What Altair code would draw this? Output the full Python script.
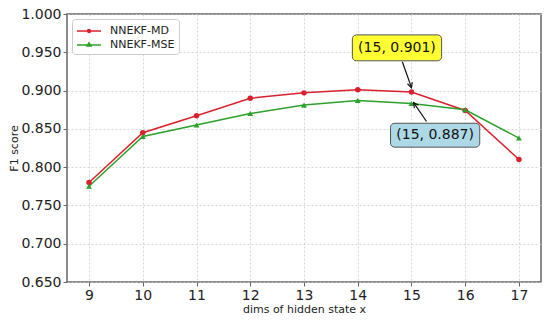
import altair as alt
import pandas as pd

dims = [9, 10, 11, 12, 13, 14, 15, 16, 17]
md = [0.780, 0.845, 0.867, 0.890, 0.897, 0.901, 0.898, 0.874, 0.810]
mse = [0.775, 0.840, 0.855, 0.870, 0.881, 0.887, 0.883, 0.875, 0.838]
series_names = ["NNEKF-MD", "NNEKF-MSE"]
colors = ["#da202c", "#2ca02c"]
y_ticks = [0.65, 0.70, 0.75, 0.80, 0.85, 0.90, 0.95, 1.00]

ann_text = ["(15, 0.901)", "(15, 0.887)"]
ann_tx = [14.73, 15.44]
ann_ty = [0.9558, 0.8417]
box_x1 = [13.90, 14.61]
box_x2 = [15.56, 16.27]
box_y1 = [0.9727, 0.8573]
box_y2 = [0.9389, 0.8261]
box_fill = ["#ffff33", "#add8e6"]
arr_x1 = [14.83, 15.28]
arr_y1 = [0.9376, 0.8596]
arr_x2 = [15.0, 15.04]
arr_y2 = [0.9038, 0.8843]
arr_ang = [341, 146]

df = pd.DataFrame({
    "dims": dims + dims,
    "f1": md + mse,
    "series": [series_names[0]] * len(dims) + [series_names[1]] * len(dims),
})
ann = pd.DataFrame({"text": ann_text, "tx": ann_tx, "ty": ann_ty,
                    "bx1": box_x1, "bx2": box_x2, "by1": box_y1, "by2": box_y2,
                    "fill": box_fill,
                    "ax1": arr_x1, "ay1": arr_y1, "ax2": arr_x2, "ay2": arr_y2,
                    "ang": arr_ang})

FONT = "DejaVu Sans"
xscale = alt.Scale(domain=[8.59, 17.41], nice=False, zero=False)
yscale = alt.Scale(domain=[0.65, 1.0], nice=False, zero=False)
cscale = alt.Scale(domain=series_names, range=colors)
xaxis = alt.Axis(values=dims, format="d", title="dims of hidden state x")
yaxis = alt.Axis(values=y_ticks, format=".3f", title="F1 score")


def X(f):
    return alt.X(f, scale=xscale, axis=xaxis)


def Y(f):
    return alt.Y(f, scale=yscale, axis=yaxis)


lines = alt.Chart(df).mark_line(strokeWidth=1.5).encode(
    x=X("dims:Q"), y=Y("f1:Q"),
    color=alt.Color("series:N", scale=cscale, legend=None),
    detail="series:N",
)

pts_md = alt.Chart(df).transform_filter(
    alt.datum.series == series_names[0]
).mark_point(filled=True, opacity=1, size=30, shape="circle", color=colors[0]).encode(
    x=X("dims:Q"), y=Y("f1:Q"),
)
pts_mse = alt.Chart(df).transform_filter(
    alt.datum.series == series_names[1]
).mark_point(filled=True, opacity=1, size=34, shape="triangle-up", color=colors[1]).encode(
    x=X("dims:Q"), y=Y("f1:Q"),
)

CX = 0.714  # marker centre inside the legend symbol (unit space)


def circ(r):
    return (f"M{CX - r:.3f},0A{r},{r},0,1,0,{CX + r:.3f},0"
            f"A{r},{r},0,1,0,{CX - r:.3f},0")


def tri(r):
    return (f"M{CX:.3f},{-r:.3f}L{CX + 0.87 * r:.3f},{0.5 * r:.3f}"
            f"L{CX - 0.87 * r:.3f},{0.5 * r:.3f}Z")


line_part = f"M{CX - 1.714:.3f},0L{CX + 1.714:.3f},0"
path_md = line_part + circ(0.21) + circ(0.1) + circ(0.03)
path_mse = line_part + tri(0.32) + tri(0.16) + tri(0.05)

leg = alt.Chart(df).mark_point(filled=False, opacity=0, strokeWidth=1.5).encode(
    x=X("dims:Q"), y=Y("f1:Q"),
    color=alt.Color("series:N", scale=cscale,
                    legend=alt.Legend(title=None, orient="top-left", offset=5,
                                      labelFont=FONT, labelFontSize=11,
                                      labelColor="#222222",
                                      symbolSize=196, symbolStrokeWidth=1.5,
                                      symbolOpacity=1, labelOffset=18,
                                      padding=4, rowPadding=1,
                                      strokeColor="#cccccc",
                                      fillColor="white", cornerRadius=3)),
    shape=alt.Shape("series:N",
                    scale=alt.Scale(domain=series_names, range=[path_md, path_mse])),
)

boxes = alt.Chart(ann).mark_rect(cornerRadius=4, stroke="#555555", strokeWidth=1).encode(
    x=X("bx1:Q"), x2="bx2:Q",
    y=Y("by1:Q"), y2="by2:Q",
    fill=alt.Fill("fill:N", scale=None),
)
texts = alt.Chart(ann).mark_text(font=FONT, fontSize=14, color="#111111",
                                 baseline="middle", align="center").encode(
    x=X("tx:Q"), y=Y("ty:Q"), text="text:N",
)
arrows = alt.Chart(ann).mark_rule(color="#111111", strokeWidth=1.2).encode(
    x=X("ax1:Q"), x2="ax2:Q",
    y=Y("ay1:Q"), y2="ay2:Q",
)
heads = alt.Chart(ann).mark_point(shape="M-0.5,-1L0,0L0.5,-1", filled=False,
                                  size=100, color="#111111", strokeWidth=1.2,
                                  opacity=1).encode(
    x=X("ax2:Q"), y=Y("ay2:Q"),
    angle=alt.Angle("ang:Q", scale=None),
)

chart = alt.layer(leg, lines, pts_md, pts_mse, arrows, heads, boxes, texts).properties(
    width=474, height=268,
    autosize=alt.AutoSizeParams(type="none"),
    padding={"left": 59, "top": 6, "right": 1, "bottom": 34},
).configure_view(
    stroke="#666666", strokeWidth=1.5
).configure_axis(
    labelFont=FONT, labelFontSize=14, labelColor="#222222",
    titleFont=FONT, titleFontSize=11, titleFontWeight="normal", titleColor="#222222",
    grid=True, gridColor="#cccccc", gridDash=[2, 2], gridWidth=0.8,
    domain=False, tickColor="#666666", tickSize=4, tickWidth=1,
    labelPadding=2, titlePadding=1,
)

chart.save("out.html", embed_options={"renderer": "svg", "actions": False})
